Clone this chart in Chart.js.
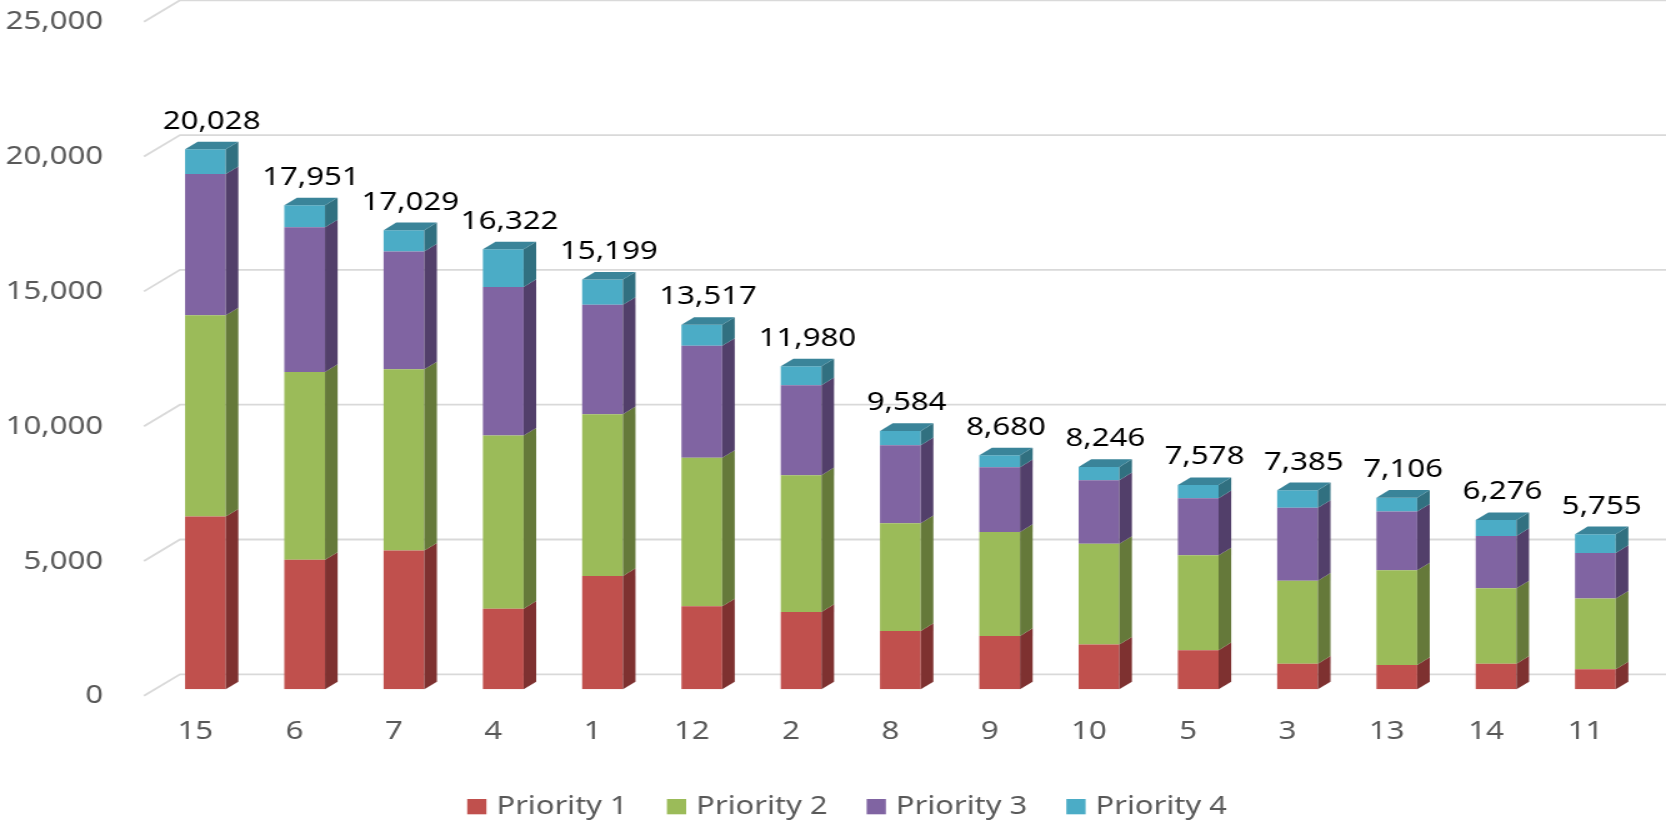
<!DOCTYPE html>
<html>
<head>
<meta charset="utf-8">
<script src="https://cdn.jsdelivr.net/npm/chart.js@4.4.1/dist/chart.umd.min.js"></script>
<style>
  html, body { margin: 0; padding: 0; background: #fff; }
</style>
</head>
<body>
<!-- the reference is a horizontally stretched picture, so the canvas is stretched too -->
<canvas id="chart" width="1333" height="829" style="width:1666px;height:829px"></canvas>
<script>
const categories = ['15', '6', '7', '4', '1', '12', '2', '8', '9', '10', '5', '3', '13', '14', '11'];
const priority1 = [6406, 4801, 5144, 2990, 4205, 3080, 2870, 2165, 1979, 1660, 1450, 950, 903, 952, 742];
const priority2 = [7463, 6969, 6722, 6420, 5999, 5504, 5071, 3995, 3859, 3735, 3520, 3080, 3513, 2796, 2622];
const priority3 = [5240, 5363, 4375, 5515, 4057, 4156, 3339, 2894, 2399, 2360, 2120, 2700, 2176, 1942, 1695];
const priority4 = [919, 818, 788, 1397, 938, 777, 700, 530, 443, 491, 488, 655, 514, 586, 696];
const seriesNames = ['Priority 1', 'Priority 2', 'Priority 3', 'Priority 4'];
const yTicks = [0, 5000, 10000, 15000, 20000, 25000];

const frontColors = ['#C0504D', '#9BBB59', '#8064A2', '#4BACC6'];
const sideColors = ['#7E3130', '#65793A', '#523F6A', '#317080'];
const topColors = ['#A24340', '#83A044', '#6B5289', '#3A8499'];

const DEPTH_X = 10.1;   // 3d depth of a column
const DEPTH_Y = 7.6;
const FONT = "'Noto Sans', sans-serif";
const fmt = v => v.toLocaleString('en-US');

// back wall grid lines with the slanted floor edge, and their labels
const gridPlugin = {
    id: 'grid3d',
    beforeDatasetsDraw(chart) {
        const ctx = chart.ctx;
        const y = chart.scales.y;
        ctx.save();
        ctx.strokeStyle = '#D9D9D9';
        ctx.lineWidth = 1.8;
        ctx.fillStyle = '#595959';
        ctx.font = '25px ' + FONT;
        ctx.textAlign = 'right';
        ctx.textBaseline = 'middle';
        yTicks.forEach(v => {
            const py = y.getPixelForValue(v);
            ctx.beginPath();
            ctx.moveTo(115.2, py + 6.5);
            ctx.lineTo(144, py - 15);
            ctx.lineTo(chart.width, py - 15);
            ctx.stroke();
            ctx.fillText(fmt(v), 82.6, py + 7);
        });
        ctx.restore();
    }
};

// side and top faces of the columns, totals above them
const boxPlugin = {
    id: 'box3d',
    afterDatasetsDraw(chart) {
        const ctx = chart.ctx;
        const metas = chart.data.datasets.map((d, i) => chart.getDatasetMeta(i));
        ctx.save();
        categories.forEach((c, i) => {
            let topBar = null, topIdx = 0, total = 0;
            metas.forEach((meta, d) => {
                const bar = meta.data[i];
                const val = chart.data.datasets[d].data[i];
                total += val;
                if (!val) return;
                const right = bar.x + bar.width / 2;
                ctx.fillStyle = sideColors[d];
                ctx.beginPath();
                ctx.moveTo(right, bar.y);
                ctx.lineTo(right + DEPTH_X, bar.y - DEPTH_Y);
                ctx.lineTo(right + DEPTH_X, bar.base - DEPTH_Y);
                ctx.lineTo(right, bar.base);
                ctx.closePath();
                ctx.fill();
                topBar = bar; topIdx = d;
            });
            if (!topBar) return;
            const left = topBar.x - topBar.width / 2;
            const right = topBar.x + topBar.width / 2;
            ctx.fillStyle = topColors[topIdx];
            ctx.beginPath();
            ctx.moveTo(left, topBar.y);
            ctx.lineTo(left + DEPTH_X, topBar.y - DEPTH_Y);
            ctx.lineTo(right + DEPTH_X, topBar.y - DEPTH_Y);
            ctx.lineTo(right, topBar.y);
            ctx.closePath();
            ctx.fill();

            ctx.fillStyle = '#000';
            ctx.font = '25px ' + FONT;
            ctx.textAlign = 'center';
            ctx.textBaseline = 'alphabetic';
            ctx.fillText(fmt(total), topBar.x + DEPTH_X / 2, topBar.y - DEPTH_Y - 13);
        });
        ctx.restore();
    }
};

// legend drawn by hand to keep the spacing of the picture
const legendPlugin = {
    id: 'legendRow',
    afterDraw(chart) {
        const ctx = chart.ctx;
        ctx.save();
        ctx.font = '24.7px ' + FONT;
        ctx.textAlign = 'left';
        ctx.textBaseline = 'middle';
        seriesNames.forEach((name, i) => {
            const x = 373.8 + i * 159.8;
            ctx.fillStyle = frontColors[i];
            ctx.fillRect(x, 799, 15.4, 15.3);
            ctx.fillStyle = '#595959';
            ctx.fillText(name, x + 23.4, 807);
        });
        ctx.restore();
    }
};

const datasets = [priority1, priority2, priority3, priority4].map((data, i) => ({
    label: seriesNames[i],
    data: data,
    backgroundColor: frontColors[i],
    borderWidth: 0,
    barPercentage: 0.41,
    categoryPercentage: 1
}));

new Chart(document.getElementById('chart'), {
    type: 'bar',
    data: { labels: categories, datasets: datasets },
    options: {
        responsive: false,
        animation: false,
        devicePixelRatio: 1,
        layout: { padding: { top: 15.25, right: 16.8, left: 0, bottom: 0 } },
        plugins: { legend: { display: false }, tooltip: { enabled: false } },
        scales: {
            x: {
                stacked: true,
                grid: { display: false, drawTicks: false },
                border: { display: false },
                ticks: {
                    color: '#595959',
                    font: { family: FONT, size: 25 },
                    padding: 28,
                    labelOffset: -8,
                    autoSkip: false,
                    maxRotation: 0
                },
                afterFit: s => { s.height = 139.7; }
            },
            y: {
                stacked: true,
                min: 0,
                max: 25000,
                grid: { display: false, drawTicks: false },
                border: { display: false },
                ticks: { display: false, stepSize: 5000 },
                afterFit: s => { s.width = 124.6; }
            }
        }
    },
    plugins: [gridPlugin, boxPlugin, legendPlugin]
});
</script>
</body>
</html>
